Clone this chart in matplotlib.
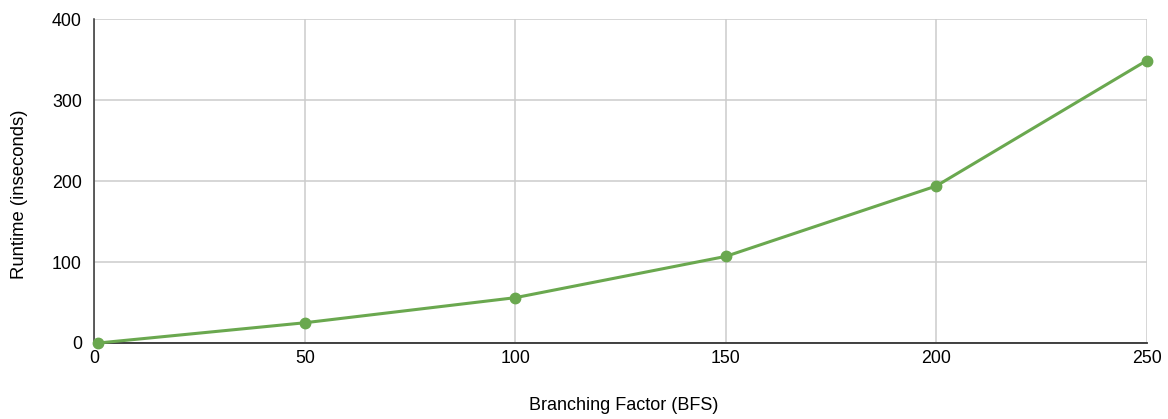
import matplotlib
matplotlib.use("Agg")
import matplotlib.pyplot as plt

branching = [1, 50, 100, 150, 200, 250]
runtime = [0, 25, 56, 107, 194, 349]
x_ticks = [0, 50, 100, 150, 200, 250]
y_ticks = [0, 100, 200, 300, 400]

plt.rcParams['font.family'] = ['Liberation Sans', 'DejaVu Sans']

fig = plt.figure(figsize=(11.68, 4.19), dpi=100)
ax = fig.add_axes([0.0807, 0.1814, 0.9011, 0.7726])

ax.plot(branching, runtime, color='#6aa84f', linewidth=2.2, marker='o',
        markersize=7.5, clip_on=False, zorder=3)

ax.set_xlim(0, 250)
ax.set_ylim(0, 400)
ax.set_xticks(x_ticks)
ax.set_yticks(y_ticks)
ax.grid(True, color='#cccccc', linewidth=1.1)
ax.set_axisbelow(True)

for side in ('top', 'right'):
    ax.spines[side].set_visible(False)
ax.spines['left'].set_color('#333333')
ax.spines['bottom'].set_color('#333333')
ax.spines['left'].set_linewidth(1.1)
ax.spines['bottom'].set_linewidth(1.3)

ax.tick_params(axis='both', length=0, labelsize=12.8, colors='#000000')
ax.tick_params(axis='x', pad=5)
ax.tick_params(axis='y', pad=9)

ax.set_xlabel('Branching Factor (BFS)', fontsize=13, va='center')
ax.set_ylabel('Runtime (inseconds)', fontsize=13.3, va='center')
ax.xaxis.set_label_coords(0.503, -0.194)
ax.yaxis.set_label_coords(-0.0706, 0.461)

fig.savefig('out.png', dpi=100)
